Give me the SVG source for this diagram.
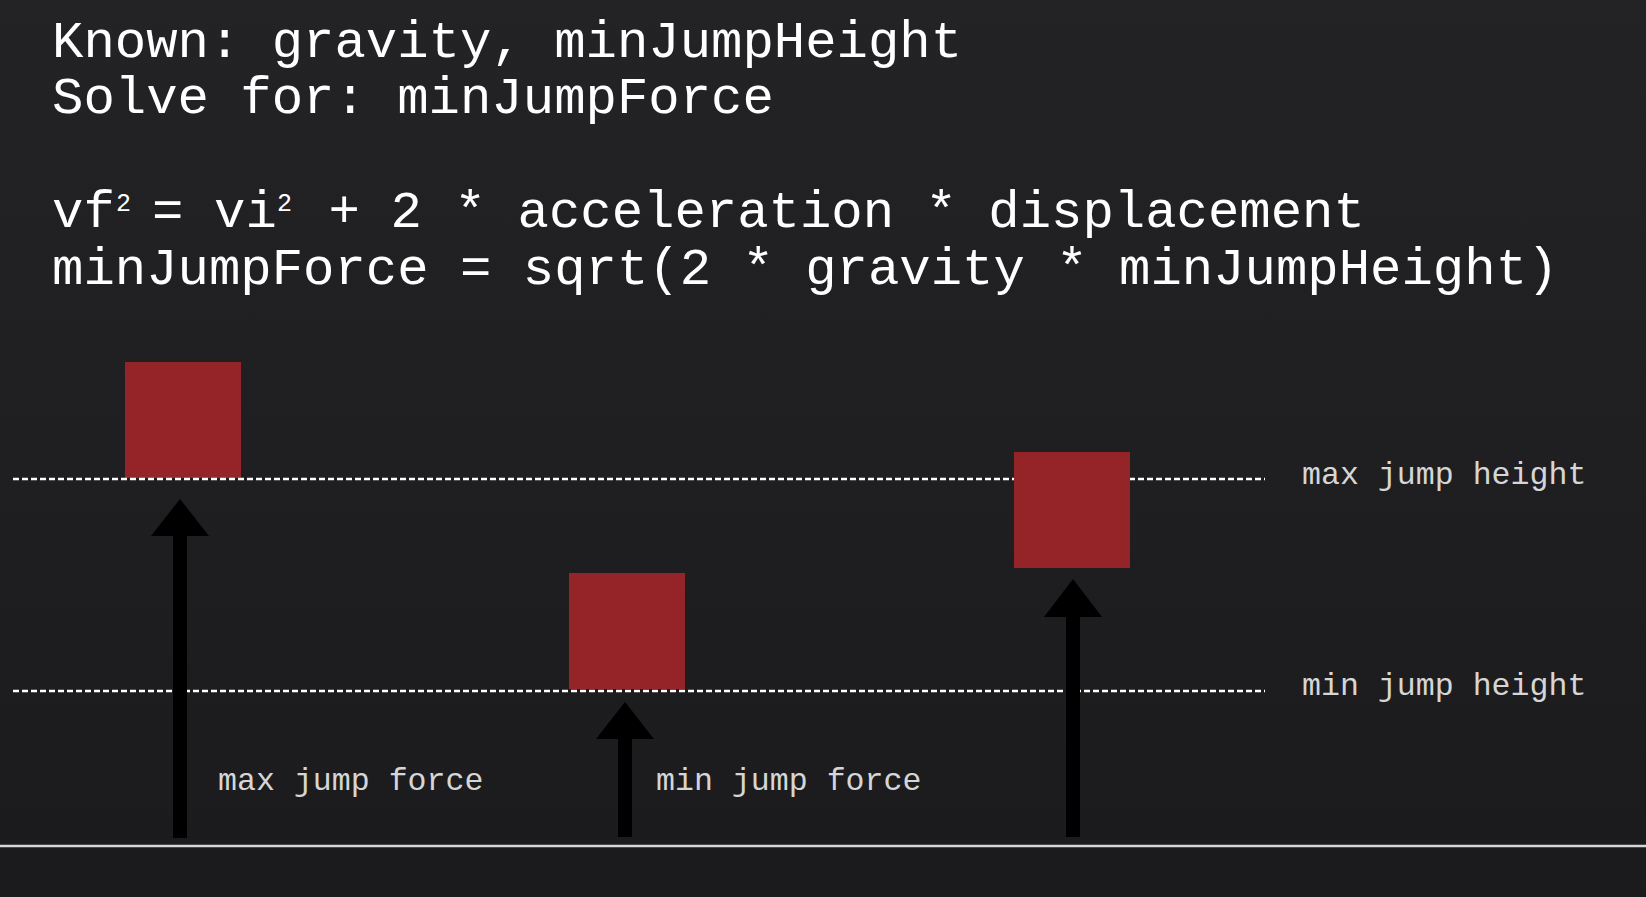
<svg xmlns="http://www.w3.org/2000/svg" width="1646" height="897" viewBox="0 0 1646 897">
  <defs>
    <linearGradient id="bg" x1="0" y1="0" x2="0" y2="1">
      <stop offset="0" stop-color="#232325"/>
      <stop offset="1" stop-color="#1b1b1d"/>
    </linearGradient>
    <style>
      .big { font-family: "Liberation Mono", "Courier New", monospace; font-size: 52.3px; fill: #ffffff; }
      .sup { font-family: "Liberation Mono", "Courier New", monospace; font-size: 25px; fill: #ffffff; }
      .lbl { font-family: "Liberation Mono", "Courier New", monospace; font-size: 31.6px; fill: #d6d6d6; }
      .box { fill: #952428; }
      .dash { stroke: #ffffff; stroke-width: 2.5; stroke-dasharray: 6 3; fill: none; }
      .ground { stroke: #d6d6d6; stroke-width: 2.5; fill: none; }
      .arrow { fill: #000000; }
    </style>
  </defs>
  <rect x="0" y="0" width="1646" height="897" fill="url(#bg)"/>

  <g id="header-text">
    <text class="big" x="52" y="57">Known: gravity, minJumpHeight</text>
    <text class="big" x="52" y="113">Solve for: minJumpForce</text>
  </g>
  <g id="formula-text">
    <text class="big" y="227"><tspan x="52">vf</tspan><tspan class="sup" x="116" y="211">2</tspan><tspan x="152" y="227">=</tspan><tspan x="214">vi</tspan><tspan class="sup" x="277" y="211">2</tspan><tspan x="328.5" y="227">+</tspan><tspan x="390.5">2</tspan><tspan x="454.5">*</tspan><tspan x="517.5">acceleration * displacement</tspan></text>
    <text class="big" x="52" y="284">minJumpForce = sqrt(2 * gravity * minJumpHeight)</text>
  </g>

  <g id="box-max">
    <rect class="box" x="125" y="362" width="116" height="116"/>
  </g>
  <g id="box-min">
    <rect class="box" x="569" y="573" width="116" height="116"/>
  </g>

  <g id="connectors">
    <line id="max-height-line" class="dash" x1="13" y1="479" x2="1265" y2="479"/>
    <line id="min-height-line" class="dash" x1="13" y1="691" x2="1265" y2="691"/>
    <line id="ground" class="ground" x1="0" y1="846" x2="1646" y2="846"/>
    <polygon id="arrow-max" class="arrow" points="173,838 173,536 151,536 180,499 209,536 187,536 187,838"/>
    <polygon id="arrow-min" class="arrow" points="618,837 618,739 596,739 625,702 654,739 632,739 632,837"/>
    <polygon id="arrow-mid" class="arrow" points="1066,837 1066,617 1044,617 1073,579 1102,617 1080,617 1080,837"/>
  </g>

  <g id="box-mid">
    <rect class="box" x="1014" y="452" width="116" height="116"/>
  </g>

  <g id="labels">
    <text class="lbl" x="1302" y="484">max jump height</text>
    <text class="lbl" x="1302" y="695">min jump height</text>
    <text class="lbl" x="218" y="790">max jump force</text>
    <text class="lbl" x="656" y="790">min jump force</text>
  </g>
</svg>
